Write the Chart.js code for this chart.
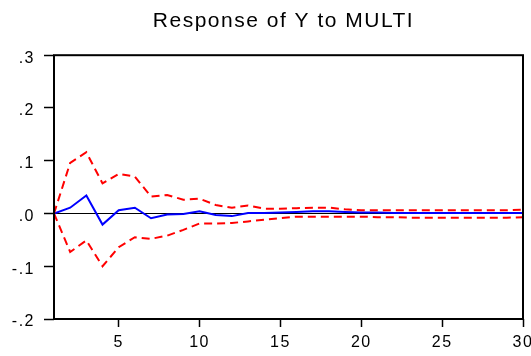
<!DOCTYPE html>
<html>
<head>
<meta charset="utf-8">
<script src="https://cdn.jsdelivr.net/npm/chart.js@4.4.1/dist/chart.umd.min.js"></script>
<style>
  html,body{margin:0;padding:0;background:#fff;}
  #wrap{width:531px;height:356px;}
</style>
</head>
<body>
<div id="wrap"><canvas id="irf" width="531" height="356"></canvas></div>
<script>
// periods 1..30
const periods = [1,2,3,4,5,6,7,8,9,10,11,12,13,14,15,16,17,18,19,20,21,22,23,24,25,26,27,28,29,30];
// impulse response (blue)
const response = [0.000,0.011,0.034,-0.021,0.006,0.011,-0.009,-0.002,-0.001,0.004,
                  -0.003,-0.005,0.001,0.001,0.002,0.003,0.004,0.004,0.003,0.002,
                  0.002,0.001,0.001,0.001,0.001,0.001,0.001,0.001,0.001,0.001];
// +/- 2 s.e. bands (red dashed)
const upperBand = [0.000,0.096,0.116,0.057,0.075,0.070,0.032,0.035,0.026,0.028,
                   0.016,0.011,0.015,0.009,0.009,0.010,0.011,0.011,0.008,0.006,
                   0.006,0.006,0.006,0.006,0.006,0.006,0.006,0.006,0.006,0.007];
const lowerBand = [0.000,-0.073,-0.051,-0.100,-0.064,-0.045,-0.048,-0.042,-0.031,-0.019,
                   -0.019,-0.018,-0.015,-0.012,-0.009,-0.006,-0.006,-0.006,-0.006,-0.006,
                   -0.007,-0.007,-0.008,-0.008,-0.008,-0.008,-0.008,-0.008,-0.008,-0.007];
const xTicks = [5,10,15,20,25,30];
const yTicks = [-0.2,-0.1,0,0.1,0.2,0.3];
const yTickLabels = {"0.3":".3","0.2":".2","0.1":".1","0":".0","-0.1":"-.1","-0.2":"-.2"};

const pts = arr => arr.map((v,i)=>({x:periods[i],y:v}));
const FONT = 'Liberation Sans, Arial, sans-serif';

// eviews-like wide text + frame round the plot area
const framePlugin = {
  id:'frame',
  afterLayout(chart){
    // title sits a bit left of the plot centre
    chart.titleBlock.left -= 5;
    chart.titleBlock.right -= 5;
  },
  beforeDraw(chart){
    chart.ctx.letterSpacing = '1.5px';
  },
  afterDraw(chart){
    const a = chart.chartArea, ctx = chart.ctx;
    ctx.save();
    ctx.strokeStyle = '#000';
    ctx.lineWidth = 2;
    ctx.strokeRect(a.left, a.top, a.right-a.left, a.bottom-a.top);
    ctx.restore();
  }
};

new Chart(document.getElementById('irf').getContext('2d'), {
  type:'line',
  data:{
    datasets:[
      {data:pts(upperBand),borderColor:'#ff0000',borderWidth:2,borderDash:[8,5],pointRadius:0,tension:0,fill:false},
      {data:pts(lowerBand),borderColor:'#ff0000',borderWidth:2,borderDash:[8,5],pointRadius:0,tension:0,fill:false},
      {data:pts(response),borderColor:'#0000ff',borderWidth:2,pointRadius:0,tension:0,fill:false}
    ]
  },
  options:{
    responsive:false,
    animation:false,
    layout:{padding:{left:0,right:8,top:0,bottom:0}},
    plugins:{
      legend:{display:false},
      tooltip:{enabled:false},
      title:{
        display:true,
        fullSize:false,
        text:'Response of Y to MULTI',
        color:'#000',
        font:{family:FONT,size:21,weight:'normal',lineHeight:1.2},
        padding:{top:9,bottom:21}
      }
    },
    scales:{
      x:{
        type:'linear',
        min:1,max:30,
        afterBuildTicks(s){ s.ticks = xTicks.map(v=>({value:v})); },
        afterFit(s){ s.height = 37; s.paddingLeft = 0; s.paddingRight = 0; },
        grid:{drawOnChartArea:false,tickLength:8,tickColor:'#000',tickWidth:1.5},
        border:{display:false},
        ticks:{color:'#000',padding:6,maxRotation:0,
               font:{family:FONT,size:16}}
      },
      y:{
        min:-0.2,max:0.3,
        afterBuildTicks(s){ s.ticks = yTicks.map(v=>({value:v})); },
        afterFit(s){ s.width = 54; },
        grid:{
          color:c=> (c.tick && Math.abs(c.tick.value)<1e-9) ? '#000' : 'rgba(0,0,0,0)',
          lineWidth:1,
          tickLength:10,tickColor:'#000',tickWidth:1.5
        },
        border:{display:false},
        ticks:{color:'#000',padding:9,labelOffset:3,
               font:{family:FONT,size:16},
               callback:v=> yTickLabels[String(Math.round(v*10)/10)] }
      }
    }
  },
  plugins:[framePlugin]
});
</script>
</body>
</html>
